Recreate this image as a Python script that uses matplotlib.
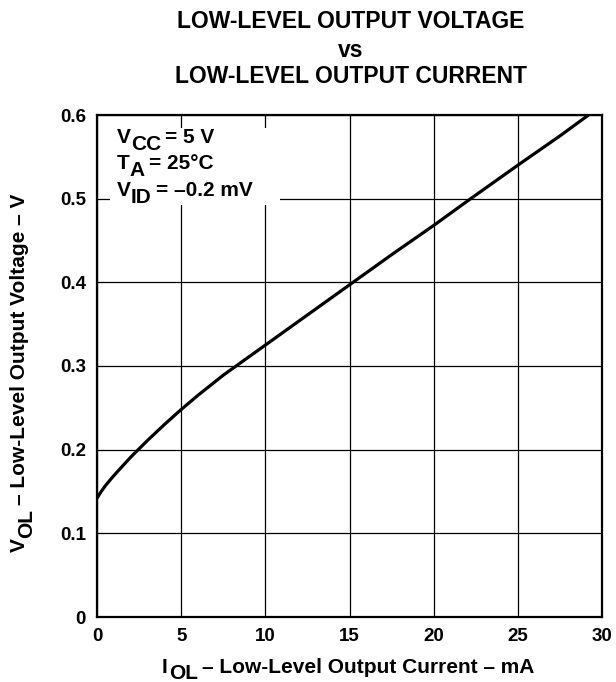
import matplotlib
matplotlib.use("Agg")
import matplotlib.pyplot as plt
from matplotlib.patches import Rectangle
from matplotlib.transforms import IdentityTransform

plt.rcParams['font.family'] = ['Liberation Sans', 'DejaVu Sans']
plt.rcParams['font.weight'] = 'bold'

# curve
i_ol = [0, 0.25, 0.5, 1, 1.5, 2, 3, 4, 5, 6, 7.5, 10, 12.5, 15, 17.5, 20, 22.2, 25, 27.5, 29.2]
v_ol = [0.142, 0.150, 0.157, 0.169, 0.180, 0.191, 0.211, 0.230, 0.248, 0.265, 0.289,
        0.325, 0.361, 0.397, 0.433, 0.468, 0.5, 0.54, 0.575, 0.6]

x_ticks = [0, 5, 10, 15, 20, 25, 30]
y_ticks = [0, 0.1, 0.2, 0.3, 0.4, 0.5, 0.6]
y_labels = ['0', '0.1', '0.2', '0.3', '0.4', '0.5', '0.6']

W, H = 616, 682
fig = plt.figure(figsize=(W / 100, H / 100), dpi=100)
ax = fig.add_axes([97 / W, 1 - 617 / H, 505 / W, 502 / H])
renderer = fig.canvas.get_renderer()


def rich(parts, x, y, size, rot=False, center=False):
    # parts: (text, shift down in px, gap after in px); x, y = baseline start, image pixels
    texts, widths = [], []
    for s, dy, g in parts:
        t = fig.text(0, 0, s, fontsize=size, fontweight='bold', ha='left', va='baseline',
                     rotation=90 if rot else 0, rotation_mode='anchor',
                     transform=IdentityTransform(), zorder=5)
        bb = t.get_window_extent(renderer)
        texts.append(t)
        widths.append(bb.height if rot else bb.width)
    total = sum(widths) + sum(p[2] for p in parts[:-1])
    cur = -total / 2 if center else 0
    for t, (s, dy, g), w in zip(texts, parts, widths):
        if rot:
            t.set_position((x + dy, (H - y) + cur))
        else:
            t.set_position((x + cur, (H - y) - dy))
        cur += w + g


ax.set_axisbelow(True)
ax.plot(i_ol, v_ol, color='black', lw=2.3, solid_capstyle='butt', solid_joinstyle='round', zorder=3)
ax.add_patch(Rectangle((0.77, 0.492), 10.1, 0.092, facecolor='white', edgecolor='none', zorder=1.5))

ax.set_xlim(0, 30)
ax.set_ylim(0, 0.6)
ax.set_xticks(x_ticks)
ax.set_yticks(y_ticks)
ax.set_yticklabels(y_labels)
ax.grid(True, color='black', lw=0.9)
ax.tick_params(length=0, labelsize=13.5, pad=8)
for s in ax.spines.values():
    s.set_linewidth(1.6)

# legend block
rich([('V', 0, 0), ('CC', 7, 4), ('= 5 V', 0, 0)], 117, 143, 15)
rich([('T', 0, 0), ('A', 7, 4), ('= 25\u00b0C', 0, 0)], 117, 169, 15)
rich([('V', 0, 0), ('ID', 7, 4), ('= \u20130.2 mV', 0, 0)], 117, 196, 15)

# axis labels
rich([('I', 0, 2), ('OL', 6, 4), ('\u2013 Low-Level Output Current \u2013 mA', 0, 0)],
     348, 673, 15, center=True)
rich([('V', 0, 0), ('OL', 7, 4), ('\u2013 Low-Level Output Voltage \u2013 V', 0, 0)],
     25, 373, 15, rot=True, center=True)

# title
fig.text(351 / W, 1 - 28 / H, 'LOW-LEVEL OUTPUT VOLTAGE', ha='center', va='baseline',
         fontsize=16.5, fontweight='bold')
fig.text(351 / W, 1 - 57 / H, 'vs', ha='center', va='baseline', fontsize=16.5, fontweight='bold')
fig.text(351 / W, 1 - 83 / H, 'LOW-LEVEL OUTPUT CURRENT', ha='center', va='baseline',
         fontsize=16.5, fontweight='bold')

fig.savefig('out.png', dpi=100)
